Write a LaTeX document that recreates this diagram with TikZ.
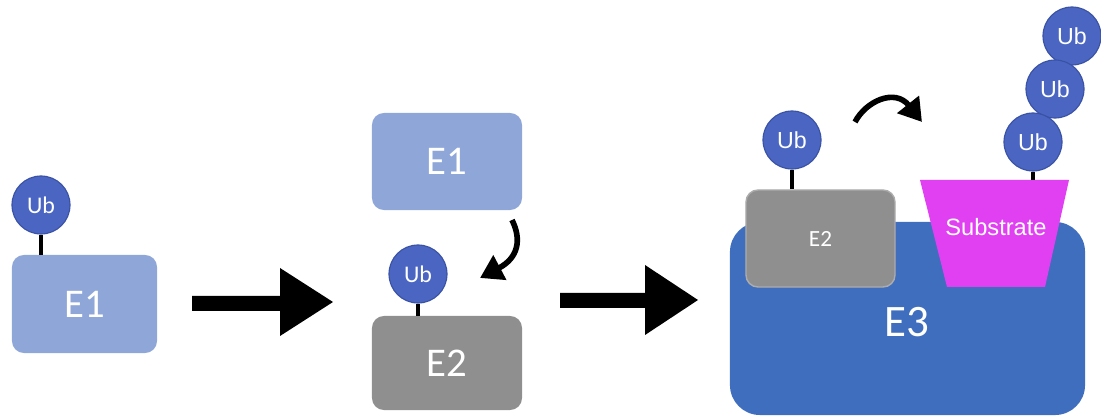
\documentclass[tikz,border=0pt]{standalone}
\usepackage{fontspec}
\setmainfont{Carlito}
\newfontfamily\arialfont{Liberation Sans}
\usetikzlibrary{arrows.meta}
\definecolor{ubblue}{HTML}{4A66C2}
\definecolor{ubedge}{HTML}{3A52A4}
\definecolor{eonecol}{HTML}{8FA6D8}
\definecolor{etwocol}{HTML}{8F8F8F}
\definecolor{ethreecol}{HTML}{3F6EBE}
\definecolor{subcol}{HTML}{E040F2}

\begin{document}
\begin{tikzpicture}[x=0.025cm, y=-0.025cm,
    ub/.style={circle, fill=ubblue, draw=ubedge, line width=0.8pt, minimum size=1.45cm,
      inner sep=0pt, text=white, font=\fontsize{17}{18}\selectfont},
    enzbox/.style={rounded corners=0.3cm, text=white, inner sep=0pt},
    stick/.style={line width=2.4pt, black},
    curvy/.style={line width=4pt, -{Triangle[length=16pt, width=19pt]}}]
    \useasboundingbox (0,0) rectangle (1101,419);

    % Passo 1: E1 carica l'ubiquitina
    \node[enzbox, fill=eonecol, minimum width=3.625cm, minimum height=2.45cm,
      font=\fontsize{29}{30}\selectfont] (eoneA) at (84.5,304) {E1};
    \node[ub] (ubA) at (41,205) {Ub};
    \draw[stick] (ubA.south) -- (ubA.south |- eoneA.north);

    % Freccia grande 1
    \fill (192,296) -- (280,296) -- (280,268) -- (333,302) -- (280,336) -- (280,311) -- (192,311) -- cycle;

    % Passo 2: trasferimento da E1 a E2
    \node[enzbox, fill=eonecol, minimum width=3.75cm, minimum height=2.425cm,
      font=\fontsize{29}{30}\selectfont] (eoneB) at (447,161.5) {E1};
    \node[enzbox, fill=etwocol, minimum width=3.75cm, minimum height=2.35cm,
      font=\fontsize{29}{30}\selectfont] (etwoB) at (447,363) {E2};
    \node[ub] (ubB) at (418,274) {Ub};
    \draw[stick] (ubB.south) -- (ubB.south |- etwoB.north);

    \coordinate (bendS) at (512,220);
    \coordinate (bendE) at (480,278);
    \draw[curvy] (bendS) .. controls (522,240) and (518,258) .. (bendE);

    % Freccia grande 2
    \fill (560,293) -- (645,293) -- (645,265) -- (698,300) -- (645,335) -- (645,308) -- (560,308) -- cycle;

    % Passo 3: E3 lega E2 e il substrato
    \node[fill=ethreecol, rounded corners=0.75cm, minimum width=8.875cm, minimum height=4.825cm,
      inner sep=0pt] (ethree) at (907.5,318.5) {};
    \node[text=white, font=\fontsize{32}{33}\selectfont] (ethreeLbl) at (907,322) {E3};
    \node[enzbox, fill=etwocol, draw=gray!65, line width=1pt, minimum width=3.725cm,
      minimum height=2.425cm, font=\fontsize{16.5}{18}\selectfont] (etwoC) at (820.5,238.5) {E2};
    \node[ub, font=\arialfont\fontsize{16.5}{18}\selectfont] (ubC) at (792,140) {Ub};
    \draw[stick] (ubC.south) -- (ubC.south |- etwoC.north);

    % Substrato (trapezio)
    \fill[subcol] (920,180) -- (1069,180) -- (1045,287) -- (947,287) -- cycle;
    \node[text=white, font=\arialfont\fontsize{16.8}{18}\selectfont] (sub) at (996,227) {Substrate};
    \coordinate (subtop) at (1033,180);

    % Catena di ubiquitine
    \node[ub, font=\arialfont\fontsize{16.5}{18}\selectfont] (ubF) at (1072,36) {Ub};
    \node[ub, font=\arialfont\fontsize{16.5}{18}\selectfont] (ubE) at (1055,89) {Ub};
    \node[ub, font=\arialfont\fontsize{16.5}{18}\selectfont] (ubD) at (1033,142) {Ub};
    \draw[stick] (ubD.south) -- (subtop);

    \coordinate (hopS) at (855,122);
    \coordinate (hopE) at (922,122);
    \draw[curvy] (hopS) .. controls (866,101) and (895,88) .. (hopE);

\end{tikzpicture}
\end{document}
